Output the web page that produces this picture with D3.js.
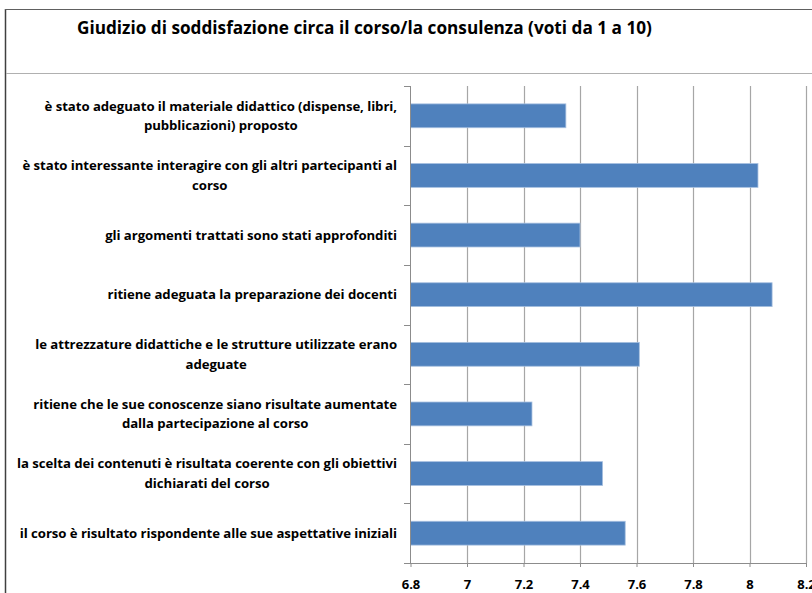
<!DOCTYPE html>
<html><head><meta charset="utf-8">
<script src="https://cdn.jsdelivr.net/npm/d3@7"></script>
<style>html,body{margin:0;padding:0;background:#fff;overflow:hidden}</style>
</head><body>
<svg id="c" width="812" height="593"></svg>
<script>
const title = "Giudizio di soddisfazione circa il corso/la consulenza (voti da 1 a 10)";
const categories = [
  ["è stato adeguato il materiale didattico (dispense, libri,", "pubblicazioni) proposto"],
  ["è stato interessante interagire con gli altri partecipanti al", "corso"],
  ["gli argomenti trattati sono stati approfonditi"],
  ["ritiene adeguata la preparazione dei docenti"],
  ["le attrezzature didattiche e le strutture utilizzate erano", "adeguate"],
  ["ritiene che le sue conoscenze siano risultate aumentate", "dalla partecipazione al corso"],
  ["la scelta dei contenuti è risultata coerente con gli obiettivi", "dichiarati del corso"],
  ["il corso è risultato rispondente alle sue aspettative iniziali"]
];
const values = [7.35, 8.03, 7.40, 8.08, 7.61, 7.23, 7.48, 7.56];
const xTicks = [6.8, 7, 7.2, 7.4, 7.6, 7.8, 8, 8.2];
const xTickLabels = ["6.8", "7", "7.2", "7.4", "7.6", "7.8", "8", "8.2"];

const svg = d3.select("#c");
const font = "'Open Sans', Lato, sans-serif";

// frame
svg.append("line").attr("x1",5.5).attr("x2",5.5).attr("y1",9).attr("y2",593).attr("stroke","#404040").attr("stroke-width",1.5);
svg.append("line").attr("x1",5).attr("x2",812).attr("y1",9.5).attr("y2",9.5).attr("stroke","#606060").attr("stroke-width",1);
svg.append("line").attr("x1",6).attr("x2",812).attr("y1",73.5).attr("y2",73.5).attr("stroke","#b0b0b0").attr("stroke-width",1);

svg.append("text").attr("x",77).attr("y",34).attr("font-family",font).attr("font-weight","bold")
  .attr("font-size",17.2).attr("fill","#000").text(title);

const x = d3.scaleLinear().domain([6.8, 8.2]).range([410.5, 806]);
const idx = d3.range(categories.length);
const y = d3.scaleBand().domain(idx).range([86, 563]).paddingInner(0.6).paddingOuter(0.3);
const yb = d3.scaleBand().domain(idx).range([86, 563]);

// gridlines
svg.append("g").selectAll("line").data(xTicks.slice(1)).join("line")
  .attr("x1", d => Math.round(x(d)) + 0.5).attr("x2", d => Math.round(x(d)) + 0.5)
  .attr("y1", 86).attr("y2", 563).attr("stroke", "#a6a6a6").attr("stroke-width", 1.2);

// bars
svg.append("g").selectAll("rect").data(values).join("rect")
  .attr("x", x(6.8)).attr("y", (d,i) => y(i))
  .attr("width", d => x(d) - x(6.8)).attr("height", y.bandwidth())
  .attr("fill", "#4f81bd").attr("stroke", "#a7c0e0").attr("stroke-width", 0.8);

// x axis
const xAxis = d3.axisBottom(x).tickValues(xTicks).tickFormat((d,i) => xTickLabels[i]).tickSizeInner(4).tickSizeOuter(0);
const gx = svg.append("g").attr("transform","translate(0,563)").call(xAxis);
gx.select(".domain").attr("stroke","#8c8c8c").attr("d","M404,0.5H806");
gx.selectAll(".tick line").attr("stroke","#8c8c8c");
gx.selectAll(".tick text").attr("font-family",font).attr("font-weight","bold").attr("font-size",13)
  .attr("fill","#000").attr("y",26).attr("dy",0);

// y axis line & ticks
svg.append("line").attr("x1",410.5).attr("x2",410.5).attr("y1",86).attr("y2",563).attr("stroke","#8c8c8c");
svg.append("g").selectAll("line").data(d3.range(categories.length)).join("line")
  .attr("x1",404).attr("x2",410).attr("y1",d=>Math.round(yb(d))+0.5).attr("y2",d=>Math.round(yb(d))+0.5)
  .attr("stroke","#8c8c8c");

// category labels
const labelRight = 397;
const lg = svg.append("g");
categories.forEach((lines, i) => {
  const cy = yb(i) + yb.bandwidth()/2;
  const lh = 19.5;
  const g = lg.append("g");
  const texts = lines.map((ln, j) => g.append("text")
    .attr("y", cy + (j - (lines.length-1)/2) * lh + 4.5)
    .attr("font-family", font).attr("font-weight","bold").attr("font-size",13.2)
    .attr("letter-spacing",-0.06)
    .attr("fill","#000").attr("text-anchor","middle").text(ln));
  const w = d3.max(texts, t => t.node().getComputedTextLength());
  texts.forEach(t => t.attr("x", labelRight - w/2));
});
</script>
</body></html>
